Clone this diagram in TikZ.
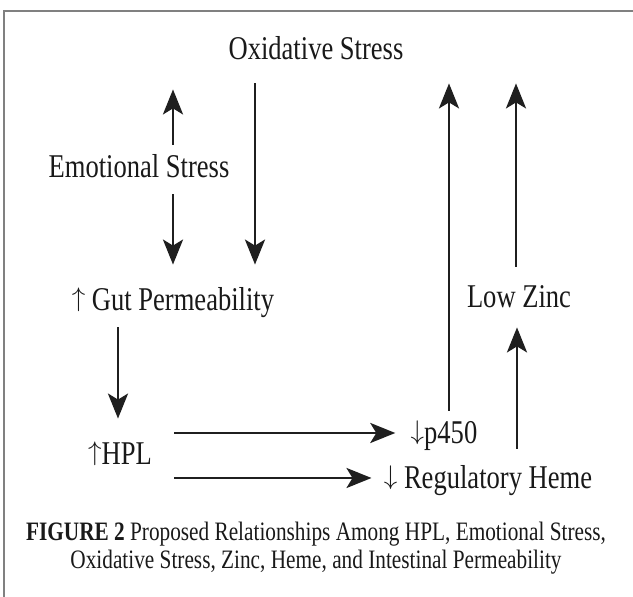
\documentclass[tikz,border=0pt]{standalone}
\usepackage{graphicx}
\usepackage{fontspec}
\setmainfont[FakeStretch=0.8]{Liberation Serif}
\usetikzlibrary{arrows.meta}
\newcommand\myup{\raisebox{0.15em}{\scalebox{0.78}{$\uparrow$}}}
\newcommand\mydown{\raisebox{0.15em}{\scalebox{0.78}{$\downarrow$}}}
\begin{document}
\begin{tikzpicture}[x=0.5pt,y=-0.5pt,
  lbl/.style={inner sep=0pt, text height=11pt, text depth=0pt, anchor=base,
    font=\fontsize{16.6pt}{20pt}\selectfont, text=black!90},
  arr/.style={line width=1.4pt, draw=black!88, -{Stealth[length=12.5pt,width=10pt,inset=3pt]}},
  framel/.style={draw=black!50, line width=1pt}]
\useasboundingbox (0,0) rectangle (633,597);
\draw[framel] (633,11) -- (4,11) -- (4,597);
% nodes
\node[lbl] (os)   at (316,60)  {Oxidative Stress};
\node[lbl] (es)   at (139,178) {Emotional Stress};
\node[lbl] (gp)   at (173,311) {\myup\ Gut Permeability};
\node[lbl] (hpl)  at (120,465) {\myup HPL};
\node[lbl] (p450) at (444,444) {\mydown p450};
\node[lbl] (heme) at (488,489) {\mydown\ Regulatory Heme};
\node[lbl] (lz)   at (519,308) {Low Zinc};
\node[inner sep=0pt, align=center, text=black!90,
  font=\fontsize{13.3pt}{14pt}\selectfont] (cap) at (316,548)
  {\textbf{FIGURE 2} Proposed Relationships Among HPL, Emotional Stress,\\
   Oxidative Stress, Zinc, Heme, and Intestinal Permeability};
% connectors
\draw[arr, shorten <=5.5pt, shorten >=14.5pt] (173,0 |- es.north) -- (173,0 |- os.south);
\draw[arr, shorten <=8pt,   shorten >=12pt]   (173,0 |- es.south) -- (173,0 |- gp.north);
\draw[arr, shorten <=11.5pt, shorten >=12pt]  (255,0 |- os.south) -- (255,0 |- gp.north);
\draw[arr, shorten <=8pt,   shorten >=12pt]   (118,0 |- gp.south) -- (118,0 |- hpl.north);
\draw[arr, shorten <=11pt,  shorten >=7.5pt]  (hpl.east |- p450.west) -- (p450.west);
\draw[arr, shorten <=11pt,  shorten >=6pt]    (hpl.east |- heme.west) -- (heme.west);
\draw[arr, shorten <=5.5pt, shorten >=11.5pt] (449,0 |- p450.north) -- (449,0 |- os.south);
\draw[arr, shorten <=9pt,   shorten >=9.5pt]  (517,0 |- heme.north) -- (517,0 |- lz.south);
\draw[arr, shorten <=9.5pt, shorten >=11.5pt] (516,0 |- lz.north) -- (516,0 |- os.south);
\end{tikzpicture}
\end{document}
